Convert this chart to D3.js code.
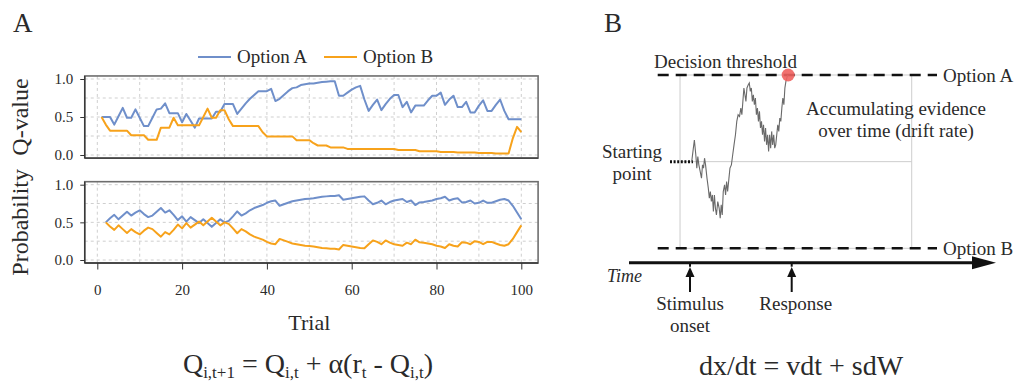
<!DOCTYPE html>
<html>
<head>
<meta charset="utf-8">
<script src="https://cdn.jsdelivr.net/npm/d3@7"></script>
<style>
  body { margin: 0; background: #fff; }
  svg text { font-family: "Liberation Serif", "Times New Roman", serif; fill: #2a2a2a; }
</style>
</head>
<body>
<script>
// === DATA (panel A) ===
const qTrials = d3.range(1, 101);
const qOptionA = [
  0.50,0.50,0.50,0.40,0.51,0.62,0.49,0.49,0.60,0.49,
  0.38,0.38,0.49,0.60,0.61,0.68,0.55,0.55,0.55,0.43,
  0.54,0.45,0.36,0.48,0.48,0.48,0.48,0.57,0.57,0.67,
  0.67,0.67,0.54,0.61,0.68,0.74,0.79,0.84,0.84,0.84,
  0.87,0.71,0.74,0.79,0.84,0.88,0.89,0.92,0.93,0.94,
  0.94,0.95,0.96,0.965,0.97,0.97,0.78,0.78,0.82,0.86,
  0.89,0.91,0.73,0.58,0.66,0.73,0.59,0.67,0.74,0.79,
  0.79,0.63,0.70,0.56,0.65,0.65,0.65,0.72,0.78,0.78,
  0.82,0.66,0.73,0.78,0.63,0.63,0.70,0.56,0.56,0.65,
  0.72,0.58,0.58,0.66,0.73,0.58,0.47,0.47,0.47,0.47
];
const qOptionB = [
  0.50,0.40,0.32,0.32,0.32,0.32,0.32,0.26,0.26,0.26,
  0.26,0.20,0.20,0.20,0.36,0.36,0.36,0.49,0.39,0.39,
  0.39,0.39,0.39,0.39,0.50,0.61,0.49,0.49,0.59,0.59,
  0.47,0.38,0.38,0.38,0.38,0.38,0.38,0.38,0.30,0.245,
  0.245,0.245,0.245,0.245,0.245,0.245,0.195,0.195,0.195,0.195,
  0.155,0.125,0.125,0.125,0.10,0.10,0.10,0.10,0.08,0.08,
  0.08,0.08,0.08,0.08,0.08,0.08,0.08,0.08,0.08,0.08,
  0.065,0.065,0.065,0.065,0.065,0.05,0.05,0.05,0.05,0.05,
  0.04,0.04,0.04,0.04,0.033,0.033,0.033,0.033,0.033,0.026,
  0.026,0.026,0.026,0.021,0.021,0.021,0.021,0.22,0.37,0.30
];
const pTrials = d3.range(2, 101);
const pOptionA = [
  0.50,0.555,0.60,0.54,0.59,0.64,0.59,0.63,0.66,0.61,
  0.57,0.59,0.64,0.69,0.63,0.66,0.60,0.53,0.58,0.51,
  0.57,0.53,0.49,0.54,0.49,0.44,0.49,0.54,0.50,0.52,
  0.58,0.645,0.59,0.62,0.66,0.69,0.71,0.73,0.76,0.78,
  0.79,0.72,0.74,0.76,0.78,0.79,0.80,0.81,0.815,0.82,
  0.83,0.84,0.845,0.85,0.85,0.86,0.80,0.81,0.82,0.83,
  0.84,0.845,0.79,0.74,0.76,0.79,0.74,0.77,0.79,0.80,
  0.81,0.77,0.79,0.73,0.765,0.77,0.78,0.79,0.81,0.82,
  0.84,0.79,0.81,0.82,0.765,0.77,0.79,0.75,0.76,0.79,
  0.76,0.76,0.78,0.80,0.81,0.79,0.72,0.63,0.54
];
const pOptionB = [
  0.50,0.445,0.40,0.46,0.41,0.36,0.41,0.37,0.34,0.39,
  0.43,0.41,0.36,0.31,0.37,0.34,0.40,0.47,0.42,0.49,
  0.43,0.47,0.51,0.46,0.51,0.56,0.51,0.46,0.50,0.48,
  0.42,0.355,0.41,0.38,0.34,0.31,0.29,0.27,0.24,0.22,
  0.21,0.28,0.26,0.24,0.22,0.21,0.20,0.19,0.185,0.18,
  0.17,0.16,0.155,0.15,0.15,0.14,0.20,0.19,0.18,0.17,
  0.16,0.155,0.21,0.26,0.24,0.21,0.26,0.23,0.21,0.20,
  0.19,0.23,0.21,0.27,0.235,0.23,0.22,0.21,0.19,0.18,
  0.16,0.21,0.19,0.18,0.235,0.23,0.21,0.25,0.24,0.21,
  0.24,0.24,0.22,0.20,0.19,0.21,0.28,0.37,0.46
];
const seriesNames = ["Option A", "Option B"];
const seriesColors = ["#6f8fca", "#f7a21b"];
const xTicks = [0, 20, 40, 60, 80, 100];
const yTicks = [0, 0.5, 1];

// === DATA (panel B) ===
const walkTime = [
  1.7,3.3,4.3,5.7,6.7,7.7,8.7,10,11.3,12.3,13.3,14.3,15.3,16.7,18,19,20,21,22,23,
  24,25,26,27.3,28.7,29.7,30.7,31.7,32.7,34,35,36,37,38.3,39.3,40.7,42,43.3,44.7,46,
  47.3,48.7,50,51,52,53,54,55,56,57.3,58.3,59.3,60.3,61.3,62.3,63.3,64.3,65.3,66.3,67.3,
  68.3,69.3,70.3,71.3,72.3,73.3,74.3,75.3,76.3,77.3,78.3,79.3,80.3,81.3,82.3,83.3,84.3,85.3,86.3,87.3,
  88.3,89.3,90.3,91.3,92.3,93.3,94.3,95.7,96.5
];
const walkEvidence = [
  0.00,0.156,0.25,0.08,-0.075,0.06,-0.037,-0.113,-0.19,-0.037,-0.075,0.04,-0.037,-0.19,-0.306,-0.422,-0.345,-0.46,-0.384,-0.576,
  -0.384,-0.538,-0.615,-0.46,-0.538,-0.653,-0.499,-0.615,-0.345,-0.268,-0.384,-0.229,-0.345,-0.19,-0.075,-0.037,0.08,0.194,0.31,0.465,
  0.541,0.522,0.618,0.541,0.696,0.85,0.772,0.696,0.85,0.888,0.908,0.811,0.85,0.696,0.772,0.657,0.734,0.541,0.618,0.465,
  0.58,0.388,0.465,0.31,0.426,0.233,0.388,0.194,0.31,0.118,0.31,0.156,0.349,0.194,0.31,0.156,0.194,0.31,0.426,0.349,
  0.503,0.465,0.618,0.734,0.657,0.85,0.927,0.985,1.0
];
const thresholds = [{label: "Option A", value: 1}, {label: "Option B", value: -1}];
const timeEvents = [{label: ["Stimulus", "onset"], time: 0}, {label: ["Response"], time: 100}];

const svg = d3.select("body").append("svg").attr("width", 1017).attr("height", 384);

// === PANEL A ===
const xA = d3.scaleLinear().domain([0, 100]).range([97.3, 521.3]);
const boxX0 = xA(-2.96), boxX1 = xA(103.96);

function drawPanel(y, yTop, yBot, trials, seriesA, seriesB, title, showX) {
  const g = svg.append("g");
  // grid
  g.selectAll(".vg").data(d3.range(0, 101, 10)).join("line")
    .attr("x1", d => xA(d)).attr("x2", d => xA(d))
    .attr("y1", yTop).attr("y2", yBot)
    .attr("stroke", "#cfcfcf").attr("stroke-dasharray", "3,3");
  g.selectAll(".hg").data([0, 0.25, 0.5, 0.75, 1]).join("line")
    .attr("x1", boxX0).attr("x2", boxX1)
    .attr("y1", d => y(d)).attr("y2", d => y(d))
    .attr("stroke", "#cfcfcf").attr("stroke-dasharray", "3,3");
  // box
  g.append("rect").attr("x", boxX0).attr("y", yTop)
    .attr("width", boxX1 - boxX0).attr("height", yBot - yTop)
    .attr("fill", "none").attr("stroke", "#6e6e6e").attr("stroke-width", 1.6);
  g.append("line").attr("x1", boxX0).attr("x2", boxX0).attr("y1", yTop).attr("y2", yBot)
    .attr("stroke", "#333").attr("stroke-width", 1.3);
  g.append("line").attr("x1", boxX0).attr("x2", boxX1).attr("y1", yBot).attr("y2", yBot)
    .attr("stroke", "#333").attr("stroke-width", 1.3);

  // y axis
  const yAxis = d3.axisLeft(y).tickValues(yTicks).tickFormat(d3.format(".1f")).tickSize(4.5).tickPadding(7);
  const ya = g.append("g").attr("transform", `translate(${boxX0},0)`).call(yAxis);
  ya.select(".domain").remove();
  ya.selectAll("text").style("font-size", "15px").attr("fill", "#3a3a3a");
  ya.selectAll("line").attr("stroke", "#333");

  if (showX) {
    const xAxis = d3.axisBottom(xA).tickValues(xTicks).tickSize(6.5).tickPadding(15);
    const xa = g.append("g").attr("transform", `translate(0,${yBot})`).call(xAxis);
    xa.select(".domain").remove();
    xa.selectAll("text").style("font-size", "15px").attr("fill", "#3a3a3a");
    xa.selectAll("line").attr("stroke", "#333");
  }

  const line = d3.line().x(d => xA(d[0])).y(d => y(d[1]));
  [seriesA, seriesB].forEach((s, i) => {
    g.append("path").datum(trials.map((t, j) => [t, s[j]]))
      .attr("d", line).attr("fill", "none")
      .attr("stroke", seriesColors[i]).attr("stroke-width", 2)
      .attr("stroke-linejoin", "round");
  });

  g.append("text").attr("transform", `translate(28,${(yTop + yBot) / 2}) rotate(-90)`)
    .attr("text-anchor", "middle").style("font-size", "24px").text(title);
}

const yQ = d3.scaleLinear().domain([0, 1]).range([155, 79]);
const yP = d3.scaleLinear().domain([0, 1]).range([260, 184.7]);
drawPanel(yQ, yQ(1.04), yQ(-0.04), qTrials, qOptionA, qOptionB, "Q-value", false);
drawPanel(yP, yP(1.04), yP(-0.04), pTrials, pOptionA, pOptionB, "Probability", true);

// legend
const legX = [198, 324];
seriesNames.forEach((n, i) => {
  svg.append("line").attr("x1", legX[i]).attr("x2", legX[i] + 33).attr("y1", 57).attr("y2", 57)
    .attr("stroke", seriesColors[i]).attr("stroke-width", 2);
  svg.append("text").attr("x", legX[i] + 39).attr("y", 63).style("font-size", "19px").text(n);
});

svg.append("text").attr("x", 13).attr("y", 32).style("font-size", "27px").text("A");
svg.append("text").attr("x", xA(50)).attr("y", 330).attr("text-anchor", "middle").style("font-size", "22px").text("Trial");

// Q-learning formula
const fA = svg.append("text").attr("x", 308).attr("y", 373).attr("text-anchor", "middle").style("font-size", "28px");
[["Q", 0], ["i,t+1", 1], [" = Q", 0], ["i,t", 1], [" + α(r", 0], ["t", 1], [" - Q", 0], ["i,t", 1], [")", 0]]
  .forEach(([s, sub], i, arr) => {
    const prevSub = i > 0 ? arr[i - 1][1] : 0;
    fA.append("tspan").attr("dy", sub && !prevSub ? 5 : (!sub && prevSub ? -5 : 0))
      .style("font-size", sub ? "17px" : "28px").text(s);
  });

// === PANEL B ===
const xB = d3.scaleLinear().domain([0, 100]).range([690, 791.7]);
const yB = d3.scaleLinear().domain([-1, 1]).range([248.3, 75]);
const gB = svg.append("g");

svg.append("text").attr("x", 604).attr("y", 32).style("font-size", "27px").text("B");

// light box
gB.append("rect").attr("x", xB(-9.8)).attr("y", yB(1)).attr("width", xB(218) - xB(-9.8)).attr("height", yB(-1) - yB(1))
  .attr("fill", "none").attr("stroke", "#cdcdcd").attr("stroke-width", 1);
gB.append("line").attr("x1", xB(-9.8)).attr("x2", xB(218)).attr("y1", yB(0)).attr("y2", yB(0))
  .attr("stroke", "#cdcdcd").attr("stroke-width", 1);

// thresholds
thresholds.forEach(th => {
  gB.append("line").attr("x1", 657.7).attr("x2", 937).attr("y1", yB(th.value)).attr("y2", yB(th.value))
    .attr("stroke", "#111").attr("stroke-width", 2.6).attr("stroke-dasharray", "11,7");
  gB.append("text").attr("x", 943).attr("y", yB(th.value) + 6.5).style("font-size", "19px").text(th.label);
});

// starting point dotted
gB.append("line").attr("x1", 670).attr("x2", 693).attr("y1", yB(0)).attr("y2", yB(0))
  .attr("stroke", "#111").attr("stroke-width", 3).attr("stroke-dasharray", "2,1.6");

// random walk
gB.append("path").datum(walkTime.map((t, i) => [t, walkEvidence[i]]))
  .attr("d", d3.line().x(d => xB(d[0])).y(d => yB(d[1])))
  .attr("fill", "none").attr("stroke", "#6a6a6a").attr("stroke-width", 1.1);

gB.append("circle").attr("cx", xB(walkTime[walkTime.length - 1])).attr("cy", yB(1)).attr("r", 6.5)
  .attr("fill", "#f0625f").attr("opacity", 0.9);

gB.append("text").attr("x", 654).attr("y", 68).style("font-size", "19px").text("Decision threshold");
gB.append("text").attr("x", 896).attr("y", 114.5).attr("text-anchor", "middle").style("font-size", "19px").text("Accumulating evidence");
gB.append("text").attr("x", 896).attr("y", 137).attr("text-anchor", "middle").style("font-size", "19px").text("over time (drift rate)");
gB.append("text").attr("x", 632).attr("y", 158).attr("text-anchor", "middle").style("font-size", "19px").text("Starting");
gB.append("text").attr("x", 632).attr("y", 180).attr("text-anchor", "middle").style("font-size", "19px").text("point");

// time axis
const axisY = 262.7;
gB.append("line").attr("x1", 629).attr("x2", 974).attr("y1", axisY).attr("y2", axisY)
  .attr("stroke", "#111").attr("stroke-width", 3);
gB.append("path").attr("d", `M972,${axisY - 6.5}L996,${axisY}L972,${axisY + 6.5}Z`).attr("fill", "#111");
gB.append("text").attr("x", 607).attr("y", 282).style("font-size", "18px").style("font-style", "italic").text("Time");

timeEvents.forEach(ev => {
  const x = xB(ev.time);
  gB.append("line").attr("x1", x).attr("x2", x).attr("y1", axisY).attr("y2", axisY + 4)
    .attr("stroke", "#111").attr("stroke-width", 2);
  gB.append("line").attr("x1", x).attr("x2", x).attr("y1", 292).attr("y2", 274)
    .attr("stroke", "#111").attr("stroke-width", 2);
  gB.append("path").attr("d", `M${x - 4.5},${277}L${x},${267}L${x + 4.5},${277}Z`).attr("fill", "#111");
  ev.label.forEach((l, i) => {
    gB.append("text").attr("x", x + (ev.label.length === 1 ? 4 : 0)).attr("y", 310 + i * 21.5)
      .attr("text-anchor", "middle").style("font-size", "19px").text(l);
  });
});

// DDM formula
svg.append("text").attr("x", 801).attr("y", 375).attr("text-anchor", "middle").style("font-size", "28px").text("dx/dt = vdt + sdW");
</script>
</body>
</html>
